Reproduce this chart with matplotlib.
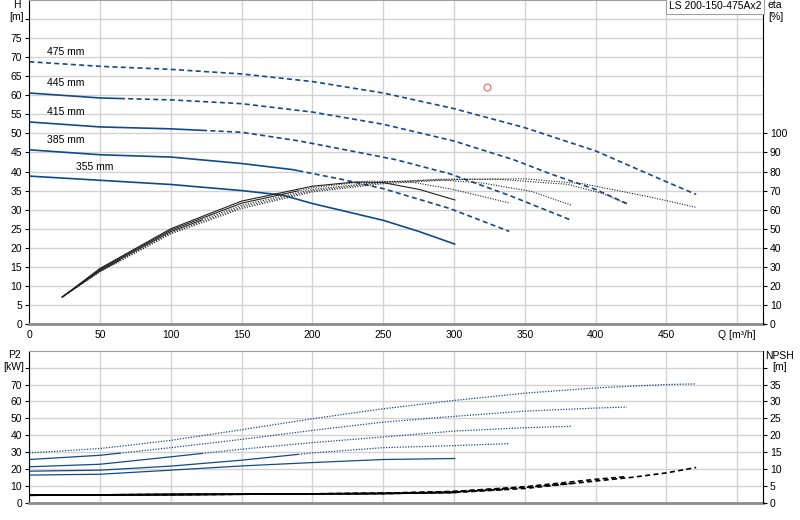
"""Pump performance chart: LS 200-150-475Ax2 (head, efficiency, P2, NPSH)."""
import numpy as np
import matplotlib

matplotlib.use("Agg")
import matplotlib.pyplot as plt  # noqa: E402

plt.rcParams["font.family"] = ["Liberation Sans", "DejaVu Sans"]
plt.rcParams["font.size"] = 7.5

# ---- data ------------------------------------------------------------------
diameters = ["355 mm", "385 mm", "415 mm", "445 mm", "475 mm"]

# head curves H [m] over Q [m³/h]
h_q = [
    [0, 50, 100, 150, 179, 200, 250, 275, 301],
    [0, 50, 100, 150, 186, 220, 250, 297, 339],
    [0, 50, 100, 150, 191, 226, 259, 297, 340, 383],
    [0, 50, 100, 150, 200, 250, 300, 342, 368, 400, 422],
    [0, 50, 100, 150, 200, 250, 300, 350, 400, 450, 471],
]
h_val = [
    [38.8, 37.7, 36.6, 35.0, 33.8, 31.6, 27.2, 24.3, 20.9],
    [45.7, 44.4, 43.8, 42.1, 40.5, 38.0, 35.5, 30.3, 24.3],
    [53.0, 51.7, 51.2, 50.3, 48.0, 45.5, 43.1, 39.4, 33.6, 27.2],
    [60.6, 59.3, 58.8, 57.8, 55.6, 52.4, 48.0, 43.1, 39.4, 35.3, 31.6],
    [68.8, 67.6, 66.8, 65.6, 63.6, 60.6, 56.5, 51.5, 45.4, 37.3, 34.0],
]

# efficiency eta [%]
eta_q = [
    [23, 50, 100, 150, 200, 230, 250, 276, 301],
    [23, 50, 100, 150, 200, 240, 270, 300, 339],
    [23, 50, 100, 150, 200, 250, 290, 320, 355, 383],
    [23, 50, 100, 150, 200, 250, 290, 330, 380, 405, 422],
    [23, 50, 100, 150, 200, 250, 300, 350, 391, 438, 471],
]
eta_val = [
    [14, 29.2, 50.0, 64.5, 72.3, 74.5, 74.2, 70.5, 65.0],
    [14, 28.8, 49.3, 63.4, 71.5, 75.0, 74.5, 70.5, 63.5],
    [14, 28.3, 48.5, 62.3, 70.6, 74.6, 75.6, 74.0, 69.5, 62.3],
    [14, 27.8, 47.8, 61.4, 69.9, 74.2, 76.0, 76.0, 73.3, 68.5, 63.0],
    [14, 27.4, 47.3, 60.6, 69.3, 73.6, 75.8, 76.2, 73.6, 66.7, 61.2],
]

# shaft power P2 [kW]
p2_q = [
    [0, 50, 100, 150, 200, 250, 301],
    [0, 50, 100, 150, 200, 250, 300, 339],
    [0, 50, 100, 150, 200, 250, 300, 350, 383],
    [0, 50, 100, 150, 200, 250, 300, 350, 400, 422],
    [0, 50, 100, 150, 200, 250, 300, 350, 400, 450, 471],
]
p2_val = [
    [16.5, 17.0, 19.4, 21.9, 23.9, 25.7, 26.3],
    [18.8, 19.4, 21.8, 25.3, 29.6, 32.7, 33.9, 35.1],
    [21.4, 22.9, 27.3, 31.8, 35.7, 39.0, 42.5, 44.5, 45.3],
    [25.7, 28.2, 32.7, 37.6, 42.9, 47.8, 51.2, 54.3, 56.1, 56.7],
    [29.6, 32.2, 37.0, 43.3, 49.8, 55.7, 60.6, 64.9, 68.0, 70.0, 70.4],
]

# NPSH [m]
npsh_q = [
    [0, 50, 100, 150, 200, 250, 301],
    [0, 50, 100, 150, 200, 250, 300, 339],
    [0, 50, 100, 150, 200, 250, 300, 350, 383],
    [0, 50, 100, 150, 200, 250, 300, 350, 400, 422],
    [0, 50, 100, 150, 200, 250, 300, 350, 400, 426, 450, 471],
]
npsh_val = [
    [2.3, 2.4, 2.5, 2.6, 2.7, 2.8, 3.1],
    [2.3, 2.4, 2.5, 2.6, 2.7, 2.8, 3.2, 4.1],
    [2.3, 2.4, 2.5, 2.6, 2.7, 2.9, 3.4, 4.6, 5.8],
    [2.3, 2.4, 2.5, 2.6, 2.7, 2.9, 3.4, 4.8, 7.0, 7.8],
    [2.3, 2.4, 2.5, 2.6, 2.7, 2.8, 3.1, 4.3, 6.5, 7.6, 8.9, 10.5],
]

# beyond these flows the motor is overloaded and curves turn dashed
solid_until = [np.inf, 190, 122, 64, 0]

duty_q, duty_h = 323, 62.2
label_pos = [(33, 39.8), (12.5, 46.9), (12.5, 54.2), (12.5, 61.8), (12.5, 70.0)]

BLUE = "#124a8a"
GRID = "#d2d2d2"


def split_at(q, v, q_cut):
    q = np.asarray(q, float)
    v = np.asarray(v, float)
    if q_cut >= q[-1]:
        return (q, v), None
    if q_cut <= q[0]:
        return None, (q, v)
    vc = np.interp(q_cut, q, v)
    lo = q < q_cut
    return ((np.append(q[lo], q_cut), np.append(v[lo], vc)),
            (np.insert(q[~lo], 0, q_cut), np.insert(v[~lo], 0, vc)))


def draw(ax, q, v, cut, color, lw, dashes):
    solid, broken = split_at(q, v, cut)
    if solid is not None:
        ax.plot(*solid, color=color, lw=lw, solid_capstyle="butt")
    if broken is not None:
        ax.plot(*broken, color=color, lw=lw, dashes=dashes)


fig = plt.figure(figsize=(8, 5.2), dpi=100)
left, width = 29.3 / 800, (762.7 - 29.3) / 800
ax_h = fig.add_axes([left, 1 - 324 / 520, width, 324 / 520])
ax_p = fig.add_axes([left, 1 - 503 / 520, width, 152.3 / 520])
ax_eta = ax_h.twinx()
ax_npsh = ax_p.twinx()

for ax in (ax_h, ax_p):
    ax.set_xlim(0, 518)
    ax.set_xticks(np.arange(0, 501, 50))
    ax.grid(True, color=GRID, lw=1.0)
    ax.set_axisbelow(True)
    ax.spines["right"].set_visible(False)
    ax.spines["top"].set_color("#a0a0a0")
    ax.spines["bottom"].set_color("#8c8c8c")
    ax.spines["bottom"].set_linewidth(2.0)
    ax.tick_params(axis="y", direction="out", length=3, width=0.8, pad=2.2)
    ax.tick_params(axis="x", length=0, pad=4)

for ax in (ax_eta, ax_npsh):
    for s in ("left", "top", "bottom"):
        ax.spines[s].set_visible(False)
    ax.tick_params(axis="y", direction="out", length=3, width=0.8, pad=2.2)

# top panel: head + efficiency
ax_h.set_ylim(0, 85)
ax_h.set_yticks(np.arange(0, 81, 5))
ax_h.set_yticklabels([str(t) for t in range(0, 76, 5)] + [""])
ax_h.set_xticklabels([str(t) for t in range(0, 451, 50)] + ["Q [m³/h]"])
ax_eta.set_ylim(0, 170)
ax_eta.set_yticks(np.arange(0, 101, 10))

for i in range(5):
    draw(ax_h, h_q[i], h_val[i], solid_until[i], BLUE, 1.2, (3, 2))
    draw(ax_eta, eta_q[i], eta_val[i], solid_until[i], "#222222", 0.8, (1, 1.3))
    ax_h.text(*label_pos[i], diameters[i], ha="left", va="bottom", fontsize=7.5)

ax_h.plot([duty_q], [duty_h], "o", ms=5, mfc="none", mec="#ff5a5a", mew=0.8)
ax_eta.text(0.998, 0.997, "LS 200-150-475Ax2", transform=ax_eta.transAxes,
            ha="right", va="top", fontsize=7.5,
            bbox=dict(boxstyle="square,pad=0.3", fc="white", ec="#a0a0a0", lw=0.8))

# bottom panel: power + NPSH
ax_p.set_ylim(0, 90)
ax_p.set_yticks(np.arange(0, 81, 10))
ax_p.set_yticklabels([str(t) for t in range(0, 71, 10)] + [""])
ax_p.set_xticklabels([])
ax_npsh.set_ylim(0, 45)
ax_npsh.set_yticks(np.arange(0, 41, 5))
ax_npsh.set_yticklabels([str(t) for t in range(0, 36, 5)] + [""])

for i in range(5):
    draw(ax_p, p2_q[i], p2_val[i], solid_until[i], BLUE, 0.9, (1, 1.2))
    draw(ax_npsh, npsh_q[i], npsh_val[i], solid_until[i], "black", 1.2, (3, 2))

# axis captions
fig.text(17 / 800, 1 - 5 / 520, "H", ha="center", va="center")
fig.text(17 / 800, 1 - 17 / 520, "[m]", ha="center", va="center")
fig.text(768 / 800, 1 - 5 / 520, "eta", ha="left", va="center")
fig.text(768 / 800, 1 - 17 / 520, "[%]", ha="left", va="center")
fig.text(14 / 800, 1 - 355 / 520, "P2", ha="center", va="center")
fig.text(14 / 800, 1 - 367 / 520, "[kW]", ha="center", va="center")
fig.text(780 / 800, 1 - 356 / 520, "NPSH", ha="center", va="center")
fig.text(780 / 800, 1 - 367 / 520, "[m]", ha="center", va="center")

fig.savefig("out.png", dpi=100)
plt.close(fig)
